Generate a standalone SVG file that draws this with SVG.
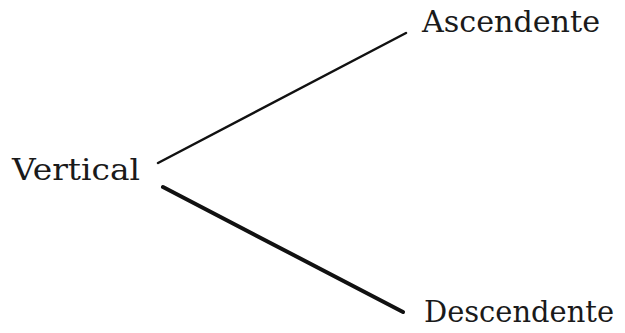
<svg xmlns="http://www.w3.org/2000/svg" width="625" height="333" viewBox="0 0 625 333">
<style>
text{font-family:"DejaVu Serif","Liberation Serif",serif;font-size:30px;fill:#1a1a1a}
.c{stroke:#111;fill:none;stroke-linecap:round}
</style>
<rect width="625" height="333" fill="#fff"/>
<g id="connectors">
<line class="c" x1="158" y1="163" x2="406" y2="33" stroke-width="2.5"/>
<line class="c" x1="163" y1="187" x2="403" y2="312" stroke-width="4"/>
</g>
<g id="vertical"><text x="12" y="180" textLength="128" lengthAdjust="spacingAndGlyphs">Vertical</text></g>
<g id="ascendente"><text x="422" y="32" textLength="178" lengthAdjust="spacingAndGlyphs">Ascendente</text></g>
<g id="descendente"><text x="424" y="322" textLength="190" lengthAdjust="spacingAndGlyphs">Descendente</text></g>
</svg>
